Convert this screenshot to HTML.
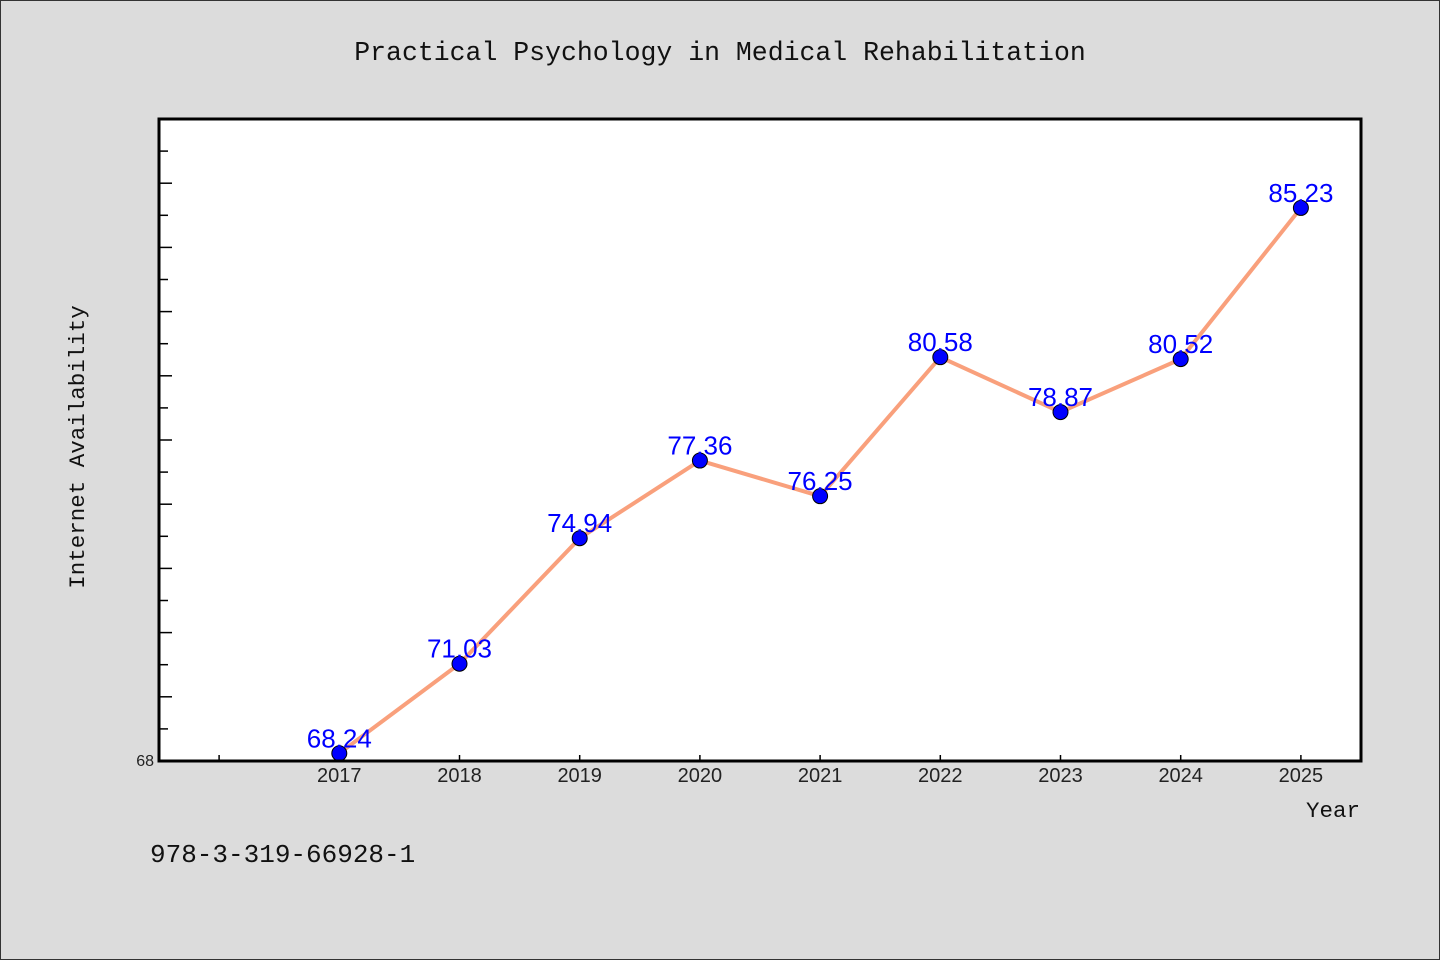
<!DOCTYPE html>
<html><head><meta charset="utf-8"><style>
body{margin:0;background:#dcdcdc;}
svg{display:block;}
</style></head><body>
<svg width="1440" height="960" xmlns="http://www.w3.org/2000/svg">
<rect x="0.5" y="0.5" width="1439" height="959" fill="#dcdcdc" stroke="#333"/>
<text x="720" y="60" text-anchor="middle" font-family="Liberation Mono, monospace" font-size="26.5" fill="#111">Practical Psychology in Medical Rehabilitation</text>
<rect x="159" y="119" width="1202" height="642" fill="#fff"/>
<g id="ticks"></g>
<g id="series"></g>
<rect x="159" y="119" width="1202" height="642" fill="none" stroke="#000" stroke-width="3"/>
<text x="154" y="766" text-anchor="end" font-family="Liberation Sans, sans-serif" font-size="16" fill="#222">68</text>
<text transform="translate(84,447) rotate(-90)" text-anchor="middle" font-family="Liberation Mono, monospace" font-size="22.5" fill="#111">Internet Availability</text>
<text x="1360" y="817" text-anchor="end" font-family="Liberation Mono, monospace" font-size="22.5" fill="#111">Year</text>
<text x="150" y="862" font-family="Liberation Mono, monospace" font-size="26" fill="#111">978-3-319-66928-1</text>
</svg>
<script>
const years=[2017,2018,2019,2020,2021,2022,2023,2024,2025];
const values=[68.24,71.03,74.94,77.36,76.25,80.58,78.87,80.52,85.23];
const labels=["68.24","71.03","74.94","77.36","76.25","80.58","78.87","80.52","85.23"];
const xMin=2015.5,xMax=2025.5,yMin=68,yMax=88;
const L=159,R=1361,T=119,B=761;
const xs=v=>L+(v-xMin)/(xMax-xMin)*(R-L);
const ys=v=>B-(v-yMin)/(yMax-yMin)*(B-T);
const NS="http://www.w3.org/2000/svg";
const tg=document.getElementById('ticks'),sg=document.getElementById('series');
function mk(tag,attrs,parent){const e=document.createElementNS(NS,tag);for(const k in attrs)e.setAttribute(k,attrs[k]);parent.appendChild(e);return e;}
for(let v=yMin+1;v<yMax;v++){
  const y=ys(v);
  const t=mk('line',{x1:L,x2:L+(v%2===0?13:9),y1:y,y2:y,stroke:'#000','stroke-width':1.5},tg);
  
  
}
for(let yr=2016;yr<=2025;yr++){
  const x=xs(yr);
  const t=mk('line',{x1:x,x2:x,y1:B,y2:B-6,stroke:'#000','stroke-width':1.5},tg);
  
  
}
years.forEach(yr=>{
  const t=mk('text',{x:xs(yr),y:782,'text-anchor':'middle','font-family':'Liberation Sans, sans-serif','font-size':20,fill:'#222'},tg);
  t.textContent=yr;
  
  
});
const line=mk('polyline',{points:years.map((yr,i)=>xs(yr)+','+ys(values[i])).join(' '),fill:'none',stroke:'#f9a07c','stroke-width':4},sg);


years.forEach((yr,i)=>{
  const c=mk('circle',{cx:xs(yr),cy:ys(values[i]),r:7.5,fill:'#0000ff',stroke:'#000','stroke-width':1},sg);
  
  
  const t=mk('text',{x:xs(yr),y:ys(values[i])-6,'text-anchor':'middle','font-family':'Liberation Sans, sans-serif','font-size':26,fill:'#0000ff'},sg);
  t.textContent=labels[i];
  
  
});
</script>
</body></html>
